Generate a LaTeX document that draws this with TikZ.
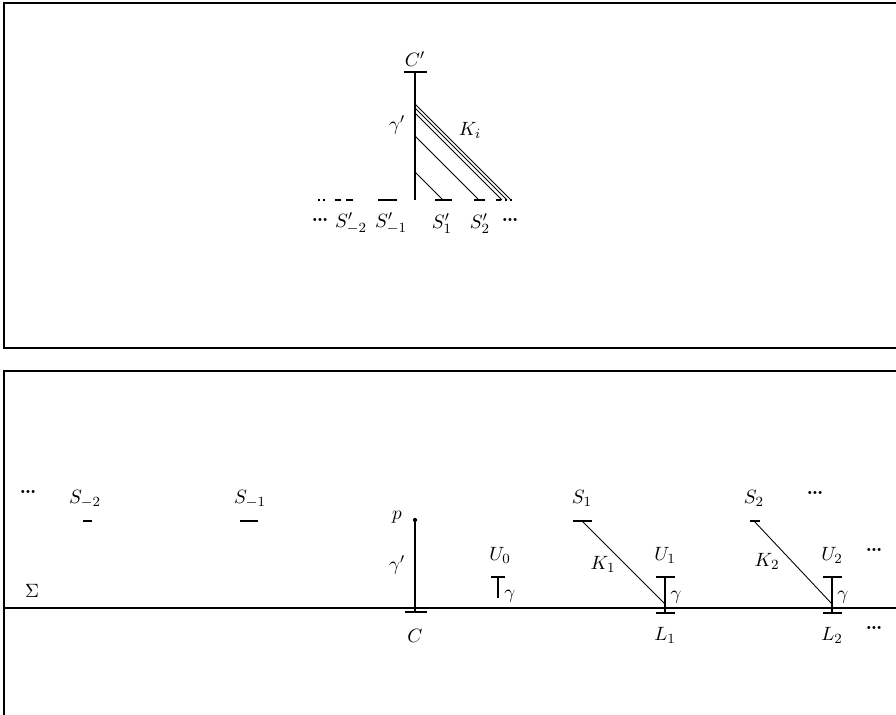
\documentclass[tikz,border=0pt]{standalone}
\usepackage{amsmath}
\usepackage{amssymb}
\usetikzlibrary{positioning}

\begin{document}
\begin{tikzpicture}[x=0.02cm, y=-0.02cm,
    frame/.style={line width=0.8pt},
    bar/.style={line width=1pt},
    stem/.style={line width=0.8pt},
    chord/.style={line width=0.5pt},
    lbl/.style={inner sep=1pt, font=\fontsize{11}{13}\selectfont},
    dts/.style={inner sep=1pt, font=\large\bfseries}
  ]
  \useasboundingbox (0,0) rectangle (896,715);
  % the two frames (cut off by the page)
  \draw[frame] (960,3) -- (4,3) -- (4,348) -- (960,348);
  \draw[frame] (4,760) -- (4,371) -- (960,371);

  % upper picture
  \coordinate (ctop) at (415,72);
  \coordinate (cbot) at (415,200);
  \draw[stem] (ctop) -- (cbot);
  \draw[bar] (404,72) -- (427,72);
  \node[lbl, above=2pt of ctop] (cp) {$C'$};
  \node[lbl] (gp) at (397,125) {$\gamma'$};
  \foreach \h/\i in {28/1,64/2,87/3,92/4,96/5} {
    \coordinate (ka\i) at (415,200-\h);
    \coordinate (kb\i) at (415+\h,200);
    \draw[chord] (ka\i) -- (kb\i);
  }
  \node[lbl] (ki) at (470,130) {$K_i$};
  \foreach \a/\b in {335/341,346/353,378/397,435/452,474/485,496/501} {
    \draw[bar] (\a,200) -- (\b,200);
  }
  \draw[bar, dash pattern=on 1pt off 2pt] (318,200) -- (327,200);
  \draw[bar, dash pattern=on 1pt off 2pt] (505,200) -- (512,200);
  \node[dts] (ld) at (320,220) {\ldots};
  \node[lbl] (sm2) at (351,223) {$S'_{-2}$};
  \node[lbl] (sm1) at (391,223) {$S'_{-1}$};
  \node[lbl] (s1p) at (442,224) {$S'_1$};
  \node[lbl] (s2p) at (480,224) {$S'_2$};
  \node[dts] (rd) at (510,220) {\ldots};

  % lower picture
  \coordinate (sl) at (4,608);
  \coordinate (sr) at (960,608);
  \draw[stem] (sl) -- (sr);
  \node[lbl] (sig) at (32,591) {$\Sigma$};
  \node[dts] (d1) at (28,492) {\ldots};
  \node[lbl] (sn2) at (85,499) {$S_{-2}$};
  \draw[bar] (83,521) -- (92,521);
  \node[lbl] (sn1) at (250,499) {$S_{-1}$};
  \draw[bar] (240,521) -- (258,521);

  % C and p
  \coordinate (p) at (415,520);
  \coordinate (c) at (415,612);
  \fill (p) circle (1.2pt);
  \draw[stem] (p) -- (c);
  \draw[bar] (405,612) -- (427,612);
  \node[lbl] (pl) at (397,517) {$p$};
  \node[lbl] (g0) at (397,565) {$\gamma'$};
  \node[lbl] (cl) at (415,636) {$C$};

  % U_0
  \coordinate (u0t) at (498,577);
  \coordinate (u0b) at (498,598);
  \draw[bar] (491,577) -- (505,577);
  \draw[stem] (u0t) -- (u0b);
  \node[lbl] (u0) at (500,555) {$U_0$};
  \node[lbl] (gu0) at (510,596) {$\gamma$};

  % S_1, U_1, L_1
  \coordinate (s1) at (582,521);
  \coordinate (e1) at (665,604);
  \draw[bar] (573,521) -- (592,521);
  \draw[chord] (s1) -- (e1);
  \coordinate (u1t) at (665,577);
  \coordinate (u1b) at (665,613);
  \draw[stem] (u1t) -- (u1b);
  \draw[bar] (656,577) -- (675,577);
  \draw[bar] (656,613) -- (675,613);
  \node[lbl] (s1l) at (582,498) {$S_1$};
  \node[lbl] (k1) at (603,564) {$K_1$};
  \node[lbl] (u1) at (665,555) {$U_1$};
  \node[lbl] (gu1) at (676,597) {$\gamma$};
  \node[lbl] (l1) at (665,635) {$L_1$};

  % S_2, U_2, L_2
  \coordinate (s2) at (754,521);
  \coordinate (e2) at (832,604);
  \draw[bar] (750,521) -- (760,521);
  \draw[chord] (s2) -- (e2);
  \coordinate (u2t) at (832,577);
  \coordinate (u2b) at (832,613);
  \draw[stem] (u2t) -- (u2b);
  \draw[bar] (823,577) -- (842,577);
  \draw[bar] (823,613) -- (842,613);
  \node[lbl] (s2l) at (754,498) {$S_2$};
  \node[lbl] (k2) at (767,561) {$K_2$};
  \node[lbl] (u2) at (832,555) {$U_2$};
  \node[lbl] (gu2) at (843,597) {$\gamma$};
  \node[lbl] (l2) at (832,635) {$L_2$};
  \node[dts] (d2) at (815,493) {\ldots};
  \node[dts] (d3) at (874,550) {\ldots};
  \node[dts] (d4) at (874,628) {\ldots};
\end{tikzpicture}
\end{document}
